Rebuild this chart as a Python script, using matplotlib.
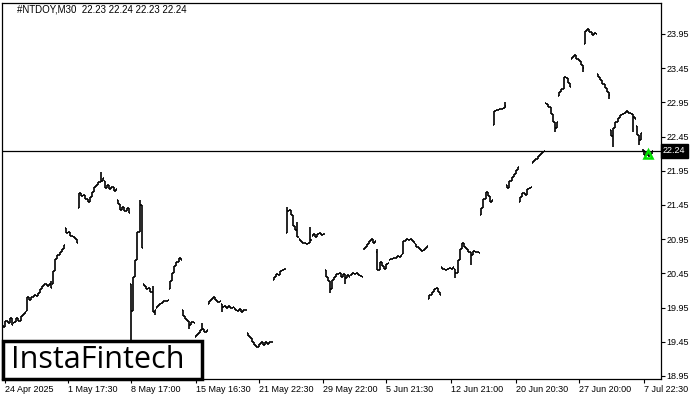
import matplotlib
matplotlib.use('Agg')
import matplotlib.pyplot as plt
import numpy as np
from matplotlib.patches import Rectangle

title = '#NTDOY,M30  22.23 22.24 22.23 22.24'
last_price = 22.24

# one entry per trading day (M30 bars), open of first bar + closes of each bar
day_open = [19.62, 19.72, 19.90, 20.16, 20.30, 21.12, 21.40, 21.56, 21.80, 21.52,
            20.30, 20.30, 19.94, 20.22, 19.92, 19.52, 20.00, 20.00, 19.94, 19.58,
            19.42, 20.36, 21.04, 20.96, 21.00, 20.50, 20.44, 20.42, 20.80, 20.76,
            20.64, 20.74, 20.88, 20.08, 20.54, 20.52, 20.80, 21.30, 22.62, 21.74,
            21.50, 22.06, 22.94, 23.04, 23.58, 23.80, 23.36, 22.55, 22.78, 22.60,
            22.26]

day_close = [
    [19.70, 19.66, 19.76, 19.72, 19.80, 19.70],
    [19.74, 19.80, 19.76, 19.82, 19.86, 19.88],
    [20.10, 20.06, 20.10, 20.13, 20.12, 20.16],
    [20.22, 20.27, 20.29, 20.26, 20.30, 20.24],
    [20.48, 20.66, 20.72, 20.76, 20.80, 20.86],
    [21.04, 21.06, 21.00, 20.98, 20.96, 20.90],
    [21.62, 21.58, 21.60, 21.54, 21.50, 21.56],
    [21.64, 21.72, 21.74, 21.78, 21.80, 21.84],
    [21.70, 21.74, 21.68, 21.72, 21.66, 21.68],
    [21.46, 21.38, 21.42, 21.36, 21.40, 21.34],
    [19.90, 20.40, 20.65, 21.05, 21.45, 20.82],
    [20.26, 20.22, 20.24, 20.18, 19.88, 19.92],
    [19.98, 20.00, 20.02, 20.04, 20.05, 20.06],
    [20.34, 20.46, 20.56, 20.62, 20.68, 20.64],
    [19.82, 19.78, 19.76, 19.70, 19.74, 19.72],
    [19.55, 19.58, 19.62, 19.64, 19.60, 19.62],
    [20.04, 20.08, 20.10, 20.06, 20.03, 20.04],
    [19.96, 19.98, 19.95, 19.97, 19.94, 19.96],
    [19.92, 19.90, 19.93, 19.89, 19.92, 19.91],
    [19.54, 19.50, 19.44, 19.40, 19.38, 19.42],
    [19.44, 19.41, 19.44, 19.42, 19.45, 19.44],
    [20.40, 20.44, 20.43, 20.48, 20.50, 20.52],
    [21.36, 21.38, 21.30, 21.15, 21.08, 20.98],
    [20.92, 20.90, 20.89, 20.88, 20.90, 20.94],
    [21.02, 20.98, 21.02, 21.04, 21.01, 21.03],
    [20.40, 20.34, 20.22, 20.36, 20.40, 20.44],
    [20.46, 20.40, 20.44, 20.38, 20.42, 20.40],
    [20.45, 20.44, 20.46, 20.42, 20.41, 20.40],
    [20.84, 20.88, 20.92, 20.95, 20.90, 20.92],
    [20.50, 20.62, 20.56, 20.52, 20.58, 20.60],
    [20.66, 20.68, 20.67, 20.70, 20.69, 20.72],
    [20.92, 20.95, 20.94, 20.96, 20.93, 20.90],
    [20.84, 20.80, 20.78, 20.79, 20.82, 20.85],
    [20.14, 20.18, 20.22, 20.24, 20.18, 20.14],
    [20.52, 20.50, 20.52, 20.53, 20.51, 20.55],
    [20.45, 20.64, 20.80, 20.90, 20.84, 20.80],
    [20.76, 20.72, 20.78, 20.77, 20.76, 20.75],
    [21.40, 21.54, 21.64, 21.58, 21.50, 21.52],
    [22.82, 22.84, 22.86, 22.85, 22.87, 22.90],
    [21.70, 21.80, 21.86, 21.90, 21.96, 22.00],
    [21.56, 21.62, 21.60, 21.68, 21.70, 21.72],
    [22.10, 22.12, 22.16, 22.20, 22.23, 22.24],
    [22.92, 22.88, 22.78, 22.66, 22.58, 22.66],
    [23.10, 23.14, 23.32, 23.30, 23.24, 23.18],
    [23.62, 23.64, 23.58, 23.56, 23.50, 23.46],
    [24.00, 24.02, 23.98, 23.94, 23.97, 23.95],
    [23.32, 23.28, 23.22, 23.16, 23.10, 23.06],
    [22.46, 22.58, 22.66, 22.72, 22.76, 22.78],
    [22.80, 22.82, 22.79, 22.78, 22.74, 22.70],
    [22.48, 22.40, 22.50],
    [22.18, 22.22, 22.16, 22.20, 22.24],
]

# long shadows: (day, bar in day) -> price of wick tip
wicks = {(3, 5): 20.34, (7, 4): 21.93, (10, 0): 19.00, (10, 4): 21.52,
         (11, 4): 20.26, (11, 5): 19.84, (14, 3): 19.64, (15, 3): 19.73,
         (17, 0): 19.88, (22, 0): 21.42, (22, 5): 21.20, (23, 5): 21.13,
         (25, 2): 20.17, (26, 3): 20.30, (29, 0): 20.80, (35, 0): 20.38,
         (36, 1): 20.57, (38, 5): 22.95, (42, 4): 22.52, (44, 5): 23.40,
         (46, 5): 23.00, (47, 1): 22.30, (48, 4): 22.52, (49, 1): 22.33}

tick_bars = [2, 31, 60, 90, 119, 149, 178, 208, 238, 267, 297]
tick_text = ['24 Apr 2025', '1 May 17:30', '8 May 17:00', '15 May 16:30',
             '21 May 22:30', '29 May 22:00', '5 Jun 21:30', '12 Jun 21:00',
             '20 Jun 20:30', '27 Jun 20:00', '7 Jul 22:30']
price_ticks = [18.95, 19.45, 19.95, 20.45, 20.95, 21.45, 21.95, 22.45, 22.95, 23.45, 23.95]

signal_day, signal_bar, signal_price = 50, 2, 22.20

# build bars
opens, closes, lows, highs = [], [], [], []
sig_x = 0
for d in range(len(day_open)):
    o = day_open[d]
    for k, c in enumerate(day_close[d]):
        hi, lo = max(o, c), min(o, c)
        if (d, k) in wicks:
            hi = max(hi, wicks[(d, k)])
            lo = min(lo, wicks[(d, k)])
        if d == signal_day and k == signal_bar:
            sig_x = len(opens)
        opens.append(o)
        closes.append(c)
        lows.append(lo)
        highs.append(hi)
        o = c
x = np.arange(len(opens))

fig = plt.figure(figsize=(7, 4), dpi=100)
ax = fig.add_axes([2 / 700, 21 / 400, 659 / 700, 376 / 400])

ax.vlines(x, lows, highs, color='black', lw=1.2)
ax.hlines(opens, x - 0.5, x, color='black', lw=1.2)
ax.hlines(closes, x, x + 0.5, color='black', lw=1.2)

ax.axhline(last_price, color='black', lw=0.9)
ax.plot([x[sig_x]], [signal_price], marker='^', ms=6, mfc='none',
        mec='#00e000', mew=1.8, ls='none', zorder=4)

ax.set_xlim(0.4, 0.4 + 659 / 2.163)
ax.set_ylim(18.906, 24.403)

ax.yaxis.tick_right()
ax.set_yticks(price_ticks)
ax.set_yticklabels(['%.2f' % p for p in price_ticks])
ax.set_xticks(tick_bars)
ax.set_xticklabels(tick_text, ha='left')
ax.tick_params(axis='both', direction='out', length=3, width=0.8, pad=1,
               labelsize=6.5, colors='black')
for lab in ax.get_xticklabels() + ax.get_yticklabels():
    lab.set_fontfamily('Liberation Sans')
for s in ax.spines.values():
    s.set_linewidth(0.9)

ax.text(1.003, last_price, '%.2f' % last_price, transform=ax.get_yaxis_transform(),
        ha='left', va='center', color='white', fontsize=6.5, family='Liberation Sans',
        bbox=dict(facecolor='black', edgecolor='black', boxstyle='square,pad=0.25'),
        clip_on=False)

fig.text(17 / 700, 1 - 10 / 400, title, ha='left', va='center', fontsize=7,
         family='Liberation Sans', color='black')

# logo box
fig.add_artist(Rectangle((3 / 700, 21 / 400), 199 / 700, 38 / 400,
                         transform=fig.transFigure, facecolor='white',
                         edgecolor='black', lw=2.5, zorder=5))
fig.text(11 / 700, 1 - 360 / 400, 'InstaFintech', ha='left', va='center',
         fontsize=22, family='Open Sans', color='black', zorder=6)

fig.savefig('out.png', dpi=100)
